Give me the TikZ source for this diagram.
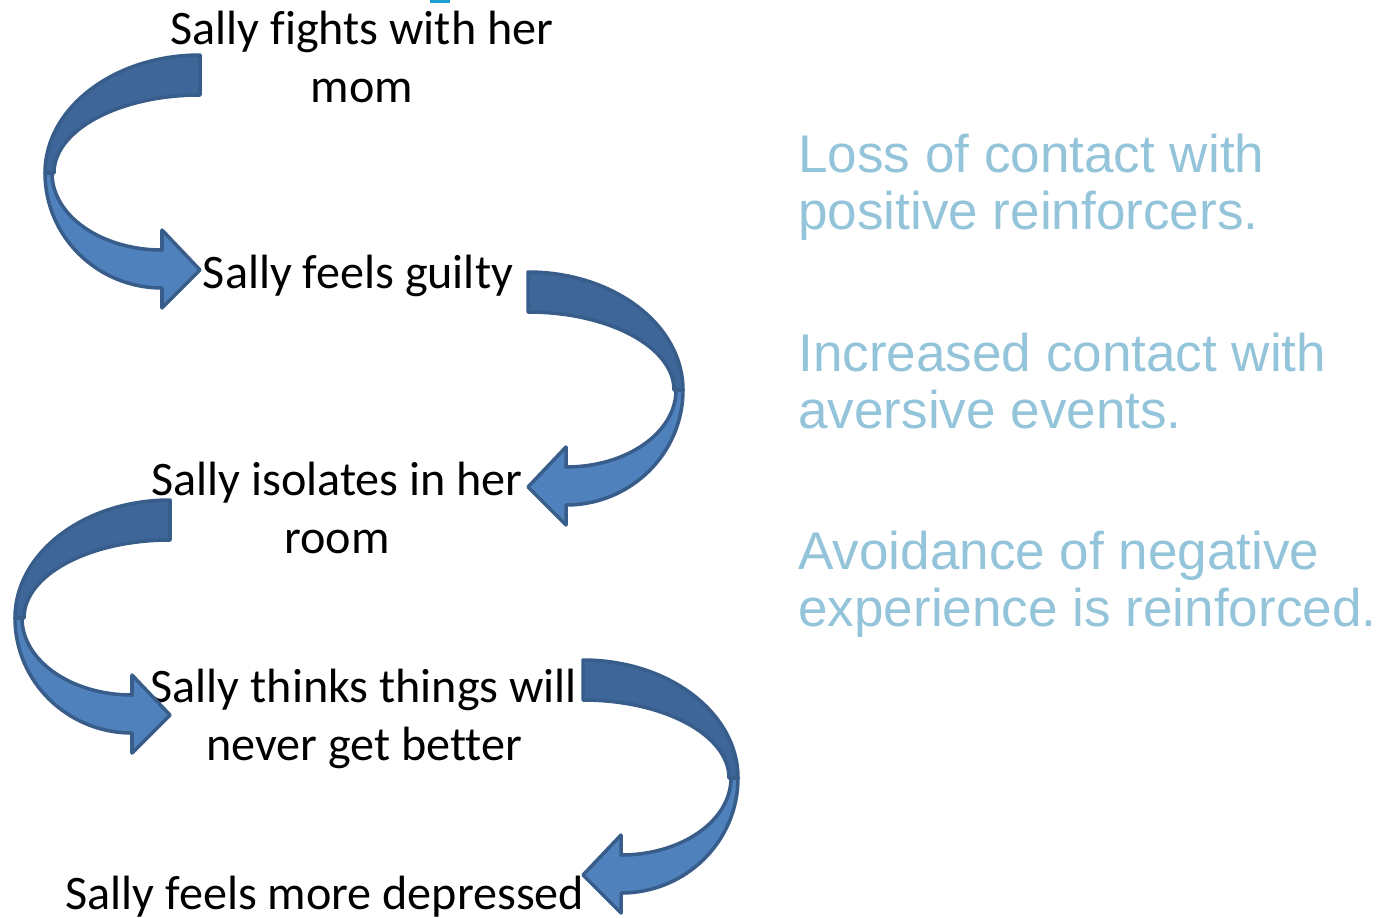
\documentclass[tikz,border=0pt]{standalone}
\usepackage{fontspec}
\setmainfont{Carlito}[Ligatures=NoCommon]
\newfontfamily\notefont{Liberation Sans}
\definecolor{ArrowDark}{HTML}{3F6698}
\definecolor{ArrowLight}{HTML}{4F81BD}
\definecolor{ArrowLine}{HTML}{385D8A}
\definecolor{NoteBlue}{HTML}{93C4DA}
\definecolor{Caret}{HTML}{1E9FD4}

\tikzset{
  band/.style={draw=ArrowLine,line width=2pt,line join=round},
  pics/bentarrow/.style={code={
      \draw[band,fill=ArrowDark] (0,0)
        arc[start angle=-90,end angle=-180,x radius=155,y radius=118]
        -- (-146,118)
        arc[start angle=180,end angle=270,x radius=146,y radius=78] -- cycle;
      \draw[band,fill=ArrowLight] (-155,118)
        arc[start angle=180,end angle=90,x radius=117,y radius=115]
        -- (-38,253) -- (0,215) -- (-38,175) -- (-38,195)
        arc[start angle=90,end angle=180,x radius=110,y radius=77] -- cycle;
  }}
}

\begin{document}
\begin{tikzpicture}[x=0.02cm,y=-0.02cm,
        stepnote/.style={align=center,anchor=base,inner sep=0pt,
                         font=\fontsize{27.4}{32.5}\selectfont},
        remark/.style={align=left,anchor=base west,inner sep=0pt,text=NoteBlue,
                       font=\notefont\fontsize{30.2}{32.3}\selectfont}]
      \useasboundingbox (0,0) rectangle (1381,917);
      \fill[Caret] (430,0) rectangle (450,3);
      % the chain of events (base = last line)
      \node[stepnote] (fight) at (362,102) {Sally fights with her\\mom};
      \node[stepnote] (guilt) at (358,288) {Sally feels guilty};
      \node[stepnote] (alone) at (337,553) {Sally isolates in her\\room};
      \node[stepnote] (hope) at (364,760) {Sally thinks things will\\never get better};
      \node[stepnote] (low) at (325,909) {Sally feels more depressed};
      \pic at (200,55) {bentarrow};
      \pic[xscale=-1] at (528,272) {bentarrow};
      \pic at (170,500) {bentarrow};
      \pic[xscale=-1] at (583,660) {bentarrow};
      % what keeps it going
      \node[remark] (loss) at (798,229) {Loss of contact with\\positive reinforcers.};
      \node[remark] (aver) at (798,428) {Increased contact with\\aversive events.};
      \node[remark] (avoid) at (798,626) {Avoidance of negative\\experience is reinforced.};
    \end{tikzpicture}
\end{document}
